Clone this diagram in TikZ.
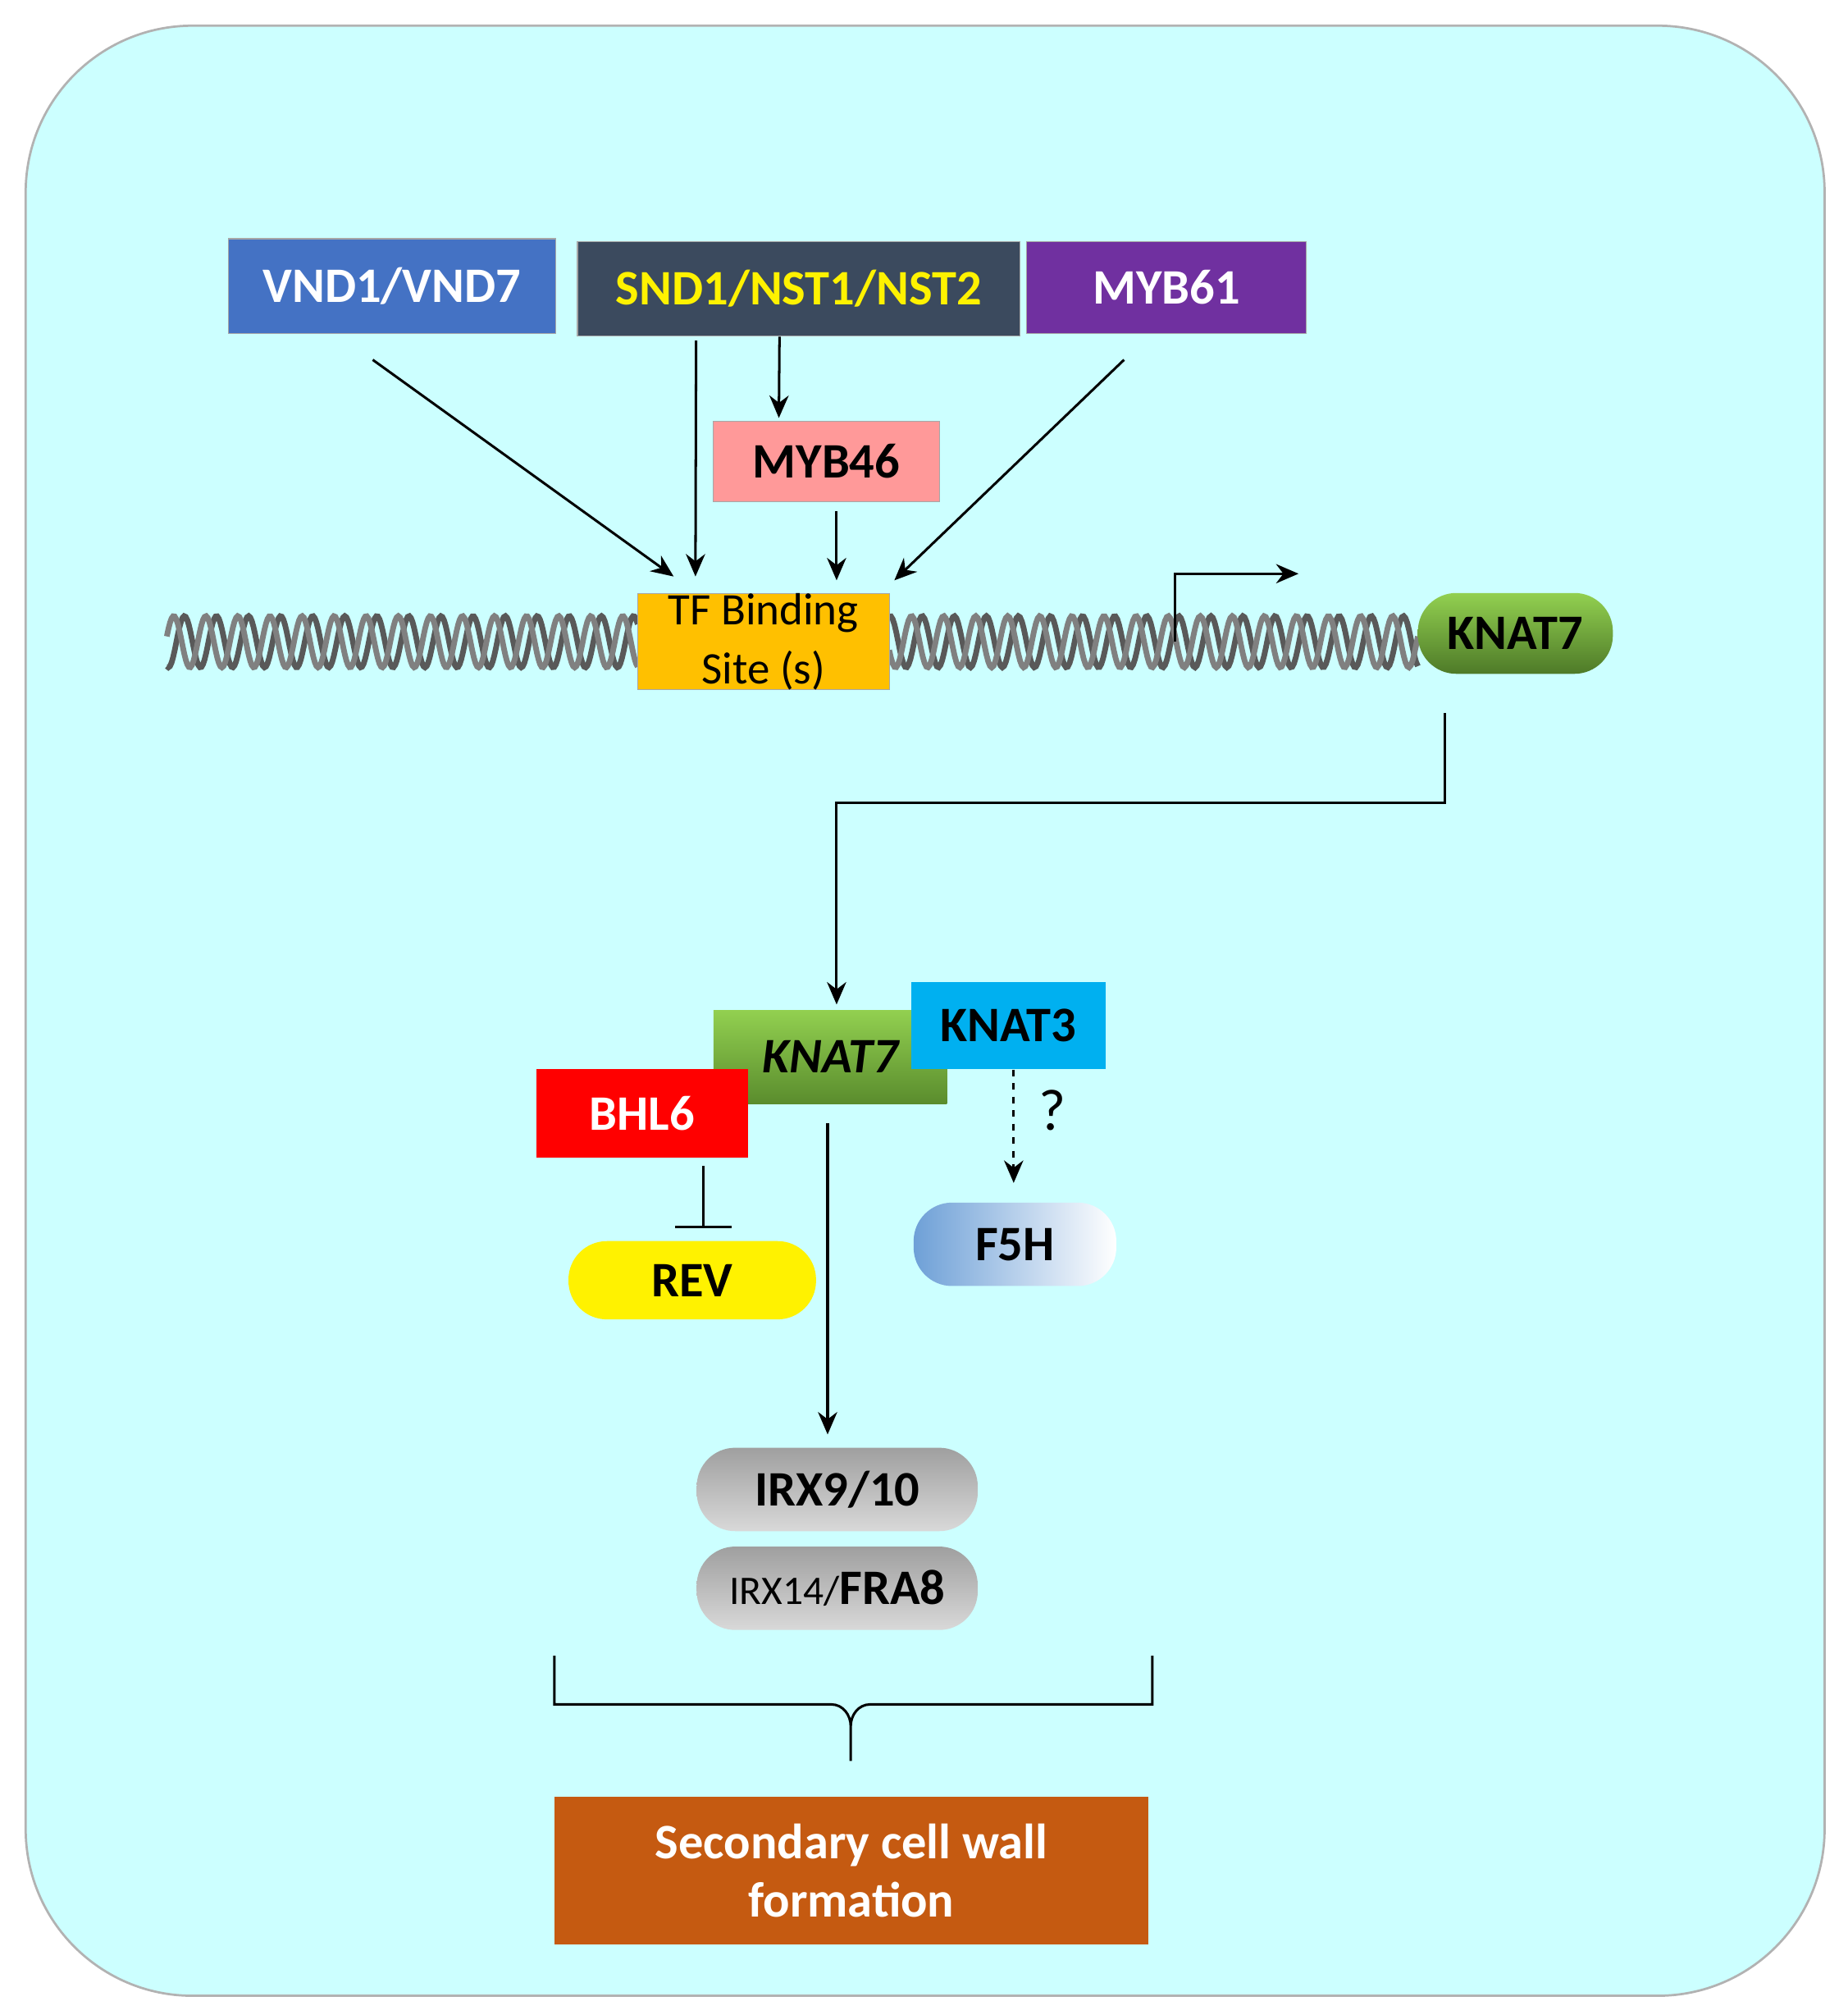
\documentclass[tikz,border=0pt]{standalone}
\usepackage{fontspec}
\setmainfont{Carlito}
\usetikzlibrary{arrows.meta, calc}
\tikzset{
  gene/.style={draw=gray!70, font=\fontsize{22}{26}\selectfont\bfseries, inner sep=0pt},
  pill/.style={gene, draw=none, rounded corners=0.6cm},
  link/.style={line width=1.1pt, -{Stealth[length=0.35cm, width=0.3cm]}},
}
\begin{document}
\begin{tikzpicture}[x=0.02cm, y=-0.02cm]
    \useasboundingbox (0,0) rectangle (1440,1570);
    \draw[draw=gray!60, fill={rgb,255:red,204;green,255;blue,255}, line width=1pt, rounded corners=2.6cm] (20,20) rectangle (1422,1555);

    % DNA strand
    \foreach \xa/\xb in {130/497, 693/1105} {
        \draw[gray!70!black, line width=2.5pt] plot[domain=\xa:\xb, samples=300] (\x, {500+20*sin(\x*14.4)});
        \draw[gray, line width=2.5pt] plot[domain=\xa:\xb, samples=300] (\x, {500+20*sin(\x*14.4+120)});
    }

    \node[gene, fill={rgb,255:red,68;green,114;blue,196}, text=white, minimum width=5.1cm, minimum height=1.48cm] (vnd) at (305.5,223) {VND1/VND7};
    \node[gene, fill={rgb,255:red,59;green,74;blue,94}, text=yellow, minimum width=6.9cm, minimum height=1.48cm] (snd) at (622.5,225) {SND1/NST1/NST2};
    \node[gene, fill={rgb,255:red,112;green,48;blue,160}, text=white, minimum width=4.36cm, minimum height=1.44cm] (myb61) at (909,224) {MYB61};
    \node[gene, fill={rgb,255:red,255;green,153;blue,153}, minimum width=3.52cm, minimum height=1.26cm] (myb46) at (644,359.5) {MYB46};
    \node[gene, fill={rgb,255:red,255;green,192;blue,0}, font=\fontsize{20}{26}\selectfont, align=center, minimum width=3.92cm, minimum height=1.4cm] (tf) at (595,500) {TF Binding\\Site (s)};
    \node[pill, top color={rgb,255:red,146;green,208;blue,80}, bottom color={rgb,255:red,78;green,122;blue,40}, minimum width=3.04cm, minimum height=1.26cm] (knat7 top) at (1181,493.5) {KNAT7};

    \node[gene, draw=none, top color={rgb,255:red,146;green,208;blue,80}, bottom color={rgb,255:red,90;green,140;blue,45}, font=\fontsize{22}{26}\selectfont\bfseries\itshape, minimum width=3.64cm, minimum height=1.46cm] (knat7) at (647,823.5) {KNAT7};
    \node[gene, fill={rgb,255:red,0;green,176;blue,240}, draw=none, minimum width=3.04cm, minimum height=1.36cm] (knat3) at (786,799) {KNAT3};
    \node[gene, fill=red, draw=none, text=white, minimum width=3.3cm, minimum height=1.38cm] (bhl6) at (500.5,867.5) {BHL6};
    \node[pill, fill=yellow, minimum width=3.86cm, minimum height=1.22cm] (rev) at (539.5,997.5) {REV};
    \node[pill, left color={rgb,255:red,110;green,160;blue,215}, right color=white, minimum width=3.16cm, minimum height=1.3cm] (f5h) at (791,969.5) {F5H\hspace{0.8cm}};
    \node[pill, top color=gray!75, bottom color=gray!30, minimum width=4.38cm, minimum height=1.3cm] (irx9) at (652.5,1160.5) {IRX9/10};
    \node[pill, top color=gray!75, bottom color=gray!30, minimum width=4.38cm, minimum height=1.3cm] (irx14) at (652.5,1237.5) {{\mdseries\fontsize{18}{22}\selectfont IRX14/}FRA8};
    \node[gene, draw=none, fill={rgb,255:red,197;green,90;blue,17}, text=white, align=center, minimum width=9.26cm, minimum height=2.3cm] (wall) at (663.5,1457.5) {Secondary cell wall\\formation};

    \coordinate (start) at (916,500);
    \draw[link] (start) -- ++(0,-53) -- ++(96,0);

    \draw[link] ([shift={(-15,20)}]vnd.south) -- ([shift={(-70,-13)}]tf.north);
    \draw[link] ([shift={(-80,3)}]snd.south) -- ([shift={(-53,-13)}]tf.north);
    \draw[link] ([shift={(-15,0)}]snd.south) -- ([shift={(-37,-2)}]myb46.north);
    \draw[link] ([shift={(8,7)}]myb46.south) -- ([shift={(57,-10)}]tf.north);
    \draw[link] ([shift={(-33,20)}]myb61.south) -- ([shift={(102,-10)}]tf.north);

    \draw[link] ([shift={(-55,30)}]knat7 top.south) -- ++(0,70) -| ([shift={(5,-4)}]knat7.north);
    \draw[link, dashed] ([shift={(4,0)}]knat3.south) -- ([shift={(-1,-15)}]f5h.north);
    \node[font=\fontsize{26}{30}\selectfont] (q) at (820,865) {?};
    \draw[line width=1.1pt, -{Bar[width=0.88cm]}] ([shift={(47.5,6)}]bhl6.south) -- ([shift={(8.5,-10)}]rev.north);
    \draw[link] ([shift={(-2,15)}]knat7.south) -- ([shift={(-7.5,-10)}]irx9.north);

    % brace
    \draw[line width=1.1pt] (432,1290) -- (432,1314) to[out=90,in=180,looseness=0] (432,1328) -- (648,1328)
        to[out=0,in=90] (663,1345) -- (663,1372) (663,1345) to[out=90,in=180] (678,1328) -- (898,1328) -- (898,1290);
\end{tikzpicture}
\end{document}
